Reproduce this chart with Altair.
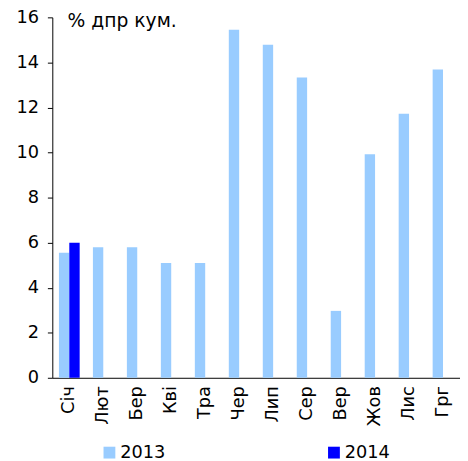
import altair as alt
import pandas as pd

months = ["Січ", "Лют", "Бер", "Кві", "Тра", "Чер", "Лип", "Сер", "Вер", "Жов", "Лис", "Грг"]
values_2013 = [5.55, 5.8, 5.8, 5.1, 5.1, 15.45, 14.78, 13.33, 2.97, 9.92, 11.72, 13.68]
months_2014 = ["Січ"]
values_2014 = [5.99]
years = ["2013", "2014"]
colors = ["#99CCFF", "#0000FF"]
y_ticks = [0, 2, 4, 6, 8, 10, 12, 14, 16]

rows = [{"month": m, "year": "2013", "value": v} for m, v in zip(months, values_2013)]
rows += [{"month": m, "year": "2014", "value": v} for m, v in zip(months_2014, values_2014)]
df = pd.DataFrame(rows)

FONT = "DejaVu Sans"
FS = 18

chart = alt.Chart(df).mark_bar().encode(
    x=alt.X("month:N", sort=months,
            scale=alt.Scale(paddingInner=0.39, paddingOuter=0.195),
            axis=alt.Axis(title=None, labelAngle=-90, ticks=False, labelPadding=8,
                          labelFontSize=FS, labelColor="#000000", labelFont=FONT,
                          domainColor="#000000")),
    xOffset=alt.XOffset("year:N", scale=alt.Scale(domain=years, paddingInner=0, paddingOuter=0)),
    y=alt.Y("value:Q", scale=alt.Scale(domain=[0, 16], nice=False),
            axis=alt.Axis(values=y_ticks, title="% дпр кум.", titleAngle=0, titleAlign="left",
                          titleBaseline="alphabetic", titleX=15, titleY=9,
                          titleFontSize=19, titleFontWeight="normal", titleFont=FONT,
                          titleColor="#000000",
                          grid=False, tickSize=5, tickColor="#000000", domainColor="#000000",
                          labelPadding=9, labelFontSize=FS, labelColor="#000000", labelFont=FONT)),
    color=alt.Color("year:N", scale=alt.Scale(domain=years, range=colors),
                    legend=alt.Legend(title=None, orient="none", legendX=49, legendY=433,
                                      direction="horizontal", columns=2, columnPadding=162,
                                      symbolType="square", symbolSize=144, symbolStrokeWidth=0,
                                      labelFontSize=FS, labelFont=FONT, labelColor="#000000",
                                      labelOffset=2)),
).properties(
    width=414, height=366,
    autosize=alt.AutoSizeParams(type="none"),
    padding={"left": 45, "top": 6, "right": 0, "bottom": 81},
).configure_view(stroke=None)

chart.save("out.html", embed_options={"renderer": "svg", "actions": False})
